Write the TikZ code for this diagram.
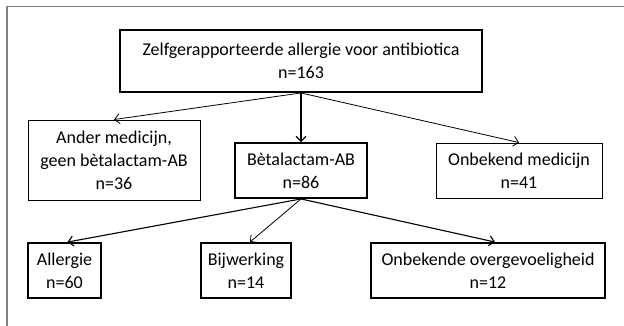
\documentclass[tikz,border=0pt]{standalone}
\usepackage{fontspec}
\setmainfont{Carlito}
\usetikzlibrary{arrows.meta}
\definecolor{framegray}{HTML}{7F7F7F}

\begin{document}
\begin{tikzpicture}[x=1pt,y=-1pt,
  box/.style={draw, line width=0.9pt, align=center, inner sep=2pt,
    font=\fontsize{18}{23}\selectfont},
  thickbox/.style={box, line width=1.9pt},
  pijl/.style={-{Straight Barb[length=5pt,width=10pt]}, line width=0.8pt}
]
  \useasboundingbox (0,0) rectangle (624,326);
  % frame
  \draw[framegray, line width=1.6pt] (624,6.5) -- (7,6.5) -- (7,326);

  \node[thickbox, minimum width=362pt, minimum height=62pt] (top) at (301,61)
    {Zelfgerapporteerde allergie voor antibiotica\\ n=163};

  \node[box, minimum width=172pt, minimum height=80pt] (ander) at (114,160)
    {Ander medicijn,\\ geen bètalactam-AB\\ n=36};
  \node[thickbox, minimum width=132pt, minimum height=55pt] (beta) at (301,170.5)
    {Bètalactam-AB\\ n=86};
  \node[box, minimum width=166pt, minimum height=55pt] (onbmed) at (519,170.5)
    {Onbekend medicijn\\ n=41};

  \node[thickbox, minimum width=73pt, minimum height=55pt] (allergie) at (64.5,270.5)
    {Allergie\\ n=60};
  \node[thickbox, minimum width=90pt, minimum height=55pt] (bijw) at (246,270.5)
    {Bijwerking\\ n=14};
  \node[thickbox, minimum width=234pt, minimum height=55pt] (onbover) at (488,270.5)
    {Onbekende overgevoeligheid\\ n=12};

  % arrows
  \draw[pijl] (top.south) -- (ander.north);
  \draw[pijl, line width=1.1pt] (top.south) -- (beta.north);
  \draw[pijl] (top.south) -- (onbmed.north);
  \draw[pijl, line width=1.1pt] (beta.south) -- ([xshift=3pt]allergie.north);
  \draw[pijl] (beta.south) -- ([xshift=4pt]bijw.north);
  \draw[pijl, line width=1.1pt] (beta.south) -- ([xshift=7pt]onbover.north);
\end{tikzpicture}
\end{document}
